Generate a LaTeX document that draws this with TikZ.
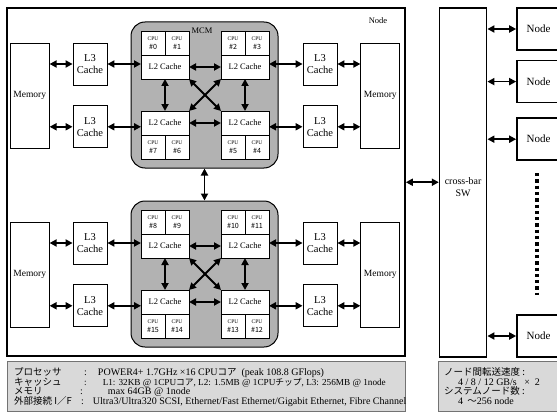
\documentclass[tikz,border=0pt]{standalone}
\usepackage{fontspec}
\setmainfont{Liberation Serif}
\newfontfamily\cjk[Scale=0.95]{Noto Sans CJK JP}
\usetikzlibrary{arrows.meta,positioning}
\newcommand{\cpulabel}[1]{CPU\\{\cjk\fontsize{7.5}{8}\selectfont\##1}}
\tikzset{
    mainframe/.style={rectangle,draw,line width=1.6pt,minimum width=398pt,minimum height=348pt},
    memblock/.style={rectangle,draw,line width=0.8pt,inner sep=0pt,minimum width=39pt,minimum height=105pt,font=\fontsize{9.5}{11}\selectfont},
    l3block/.style={rectangle,draw,line width=0.8pt,inner sep=0pt,align=center,minimum width=34pt,minimum height=42pt,font=\fontsize{10.5}{12}\selectfont},
    mcmblock/.style={rectangle,draw,rounded corners=14pt,line width=1pt,fill=black!30,minimum width=147pt,minimum height=146pt},
    l2block/.style={rectangle,draw,fill=white,line width=0.6pt,outer sep=0pt,inner sep=0pt,minimum width=48pt,minimum height=24pt,font=\fontsize{8.5}{10}\selectfont},
    cpucell/.style={rectangle,draw,fill=white,line width=0.6pt,outer sep=0pt,inner sep=0pt,align=center,minimum width=24pt,minimum height=24pt,font=\fontsize{5.5}{9.5}\selectfont},
    xbarblock/.style={rectangle,draw,line width=1.6pt,minimum width=47pt,minimum height=349pt},
    netnode/.style={rectangle,draw,line width=1.6pt,minimum width=43pt,minimum height=42pt,font=\fontsize{11}{13}\selectfont},
    infobox/.style={rectangle,draw=black!55,line width=0.8pt,fill=black!15,minimum height=50pt},
    infotext/.style={inner sep=0pt,anchor=base west,font=\fontsize{10}{10}\selectfont},
    smalllabel/.style={inner sep=0pt,align=center,font=\fontsize{8.5}{10}\selectfont},
    busline/.style={{Triangle[length=7pt,width=7pt]}-{Triangle[length=7pt,width=7pt]},line width=1.8pt},
    dotline/.style={line width=3.3pt,dash pattern=on 3.3pt off 3pt}
}

\begin{document}
\begin{tikzpicture}[x=1pt,y=-1pt,node distance=23pt]
            \useasboundingbox (0,0) rectangle (557,412);
            \clip (0,0) rectangle (557,412);
            \node[mainframe] (nodebox) at (206,182.25) {};
            \node[smalllabel] (nodelabel) at (378,21) {Node};
            \node[mcmblock] (mcma) at (204.5,95) {};
            \node[smalllabel] (mcmlabel) at (202,30.5) {MCM};
            \node[l2block] (l2a) at (165,67) {L2 Cache};
            \node[l2block,right=32pt of l2a] (l2b) {L2 Cache};
            \node[l2block,below=32pt of l2a] (l2c) {L2 Cache};
            \node[l2block,right=32pt of l2c] (l2d) {L2 Cache};
            \node[cpucell,above right=0pt and 0pt of l2a.north west] (cpu0) {\cpulabel{0}};
            \node[cpucell,right=0pt of cpu0] (cpu1) {\cpulabel{1}};
            \node[cpucell,above right=0pt and 0pt of l2b.north west] (cpu2) {\cpulabel{2}};
            \node[cpucell,right=0pt of cpu2] (cpu3) {\cpulabel{3}};
            \node[cpucell,below right=0pt and 0pt of l2c.south west] (cpu7) {\cpulabel{7}};
            \node[cpucell,right=0pt of cpu7] (cpu6) {\cpulabel{6}};
            \node[cpucell,below right=0pt and 0pt of l2d.south west] (cpu5) {\cpulabel{5}};
            \node[cpucell,right=0pt of cpu5] (cpu4) {\cpulabel{4}};
            \node[l3block] (l3a) at (90,64) {L3\\Cache};
            \node[l3block,below=20pt of l3a] (l3b) {L3\\Cache};
            \node[memblock,left=of l3a.north west,anchor=north east] (mema) {Memory};
            \node[l3block] (l3c) at (320,64) {L3\\Cache};
            \node[l3block,below=20pt of l3c] (l3d) {L3\\Cache};
            \node[memblock,right=of l3c.north east,anchor=north west] (memb) {Memory};
            \node[mcmblock] (mcmb) at (204.5,274) {};
            \node[l2block] (l2e) at (165,246) {L2 Cache};
            \node[l2block,right=32pt of l2e] (l2f) {L2 Cache};
            \node[l2block,below=32pt of l2e] (l2g) {L2 Cache};
            \node[l2block,right=32pt of l2g] (l2h) {L2 Cache};
            \node[cpucell,above right=0pt and 0pt of l2e.north west] (cpu8) {\cpulabel{8}};
            \node[cpucell,right=0pt of cpu8] (cpu9) {\cpulabel{9}};
            \node[cpucell,above right=0pt and 0pt of l2f.north west] (cpu10) {\cpulabel{10}};
            \node[cpucell,right=0pt of cpu10] (cpu11) {\cpulabel{11}};
            \node[cpucell,below right=0pt and 0pt of l2g.south west] (cpu15) {\cpulabel{15}};
            \node[cpucell,right=0pt of cpu15] (cpu14) {\cpulabel{14}};
            \node[cpucell,below right=0pt and 0pt of l2h.south west] (cpu13) {\cpulabel{13}};
            \node[cpucell,right=0pt of cpu13] (cpu12) {\cpulabel{12}};
            \node[l3block] (l3e) at (90,243) {L3\\Cache};
            \node[l3block,below=20pt of l3e] (l3f) {L3\\Cache};
            \node[memblock,left=of l3e.north west,anchor=north east] (memc) {Memory};
            \node[l3block] (l3g) at (320,243) {L3\\Cache};
            \node[l3block,below=20pt of l3g] (l3h) {L3\\Cache};
            \node[memblock,right=of l3g.north east,anchor=north west] (memd) {Memory};
            \node[xbarblock,right=33pt of nodebox] (xbar) {};
            \node[smalllabel,font=\fontsize{10}{12}\selectfont] (xbarlabel) at ([yshift=-5pt]xbar.center) {cross-bar\\SW};
            \node[netnode] (net1) at (538.5,29) {Node};
            \node[netnode,below=9pt of net1] (net2) {Node};
            \node[netnode,below=14pt of net2] (net3) {Node};
            \node[netnode] (net4) at (538.5,336) {Node};
            \coordinate (dotstop) at (537,173);
            \coordinate (dotsend) at (537,295);
            \draw[dotline] (dotstop) -- (dotsend);
            \draw[busline] (mema.east |- l3a.west) -- (l3a.west);
            \draw[busline] (mema.east |- l3b.west) -- (l3b.west);
            \draw[busline] (l3a.east) -- (l3a.east -| l2a.west);
            \draw[busline] (l3b.east) -- (l3b.east -| l2c.west);
            \draw[busline] (l2a) -- (l2b);
            \draw[busline] (l2c) -- (l2d);
            \draw[busline] (l2a) -- (l2c);
            \draw[busline] (l2b) -- (l2d);
            \draw[busline] (l2a.south east) -- (l2d.north west);
            \draw[busline] (l2b.south west) -- (l2c.north east);
            \draw[busline] (l3c.west -| l2b.east) -- (l3c.west);
            \draw[busline] (l3d.west -| l2d.east) -- (l3d.west);
            \draw[busline] (l3c.east) -- (l3c.east -| memb.west);
            \draw[busline] (l3d.east) -- (l3d.east -| memb.west);
            \draw[busline] (mcma) -- (mcmb);
            \draw[busline] (memc.east |- l3e.west) -- (l3e.west);
            \draw[busline] (memc.east |- l3f.west) -- (l3f.west);
            \draw[busline] (l3e.east) -- (l3e.east -| l2e.west);
            \draw[busline] (l3f.east) -- (l3f.east -| l2g.west);
            \draw[busline] (l2e) -- (l2f);
            \draw[busline] (l2g) -- (l2h);
            \draw[busline] (l2e) -- (l2g);
            \draw[busline] (l2f) -- (l2h);
            \draw[busline] (l2e.south east) -- (l2h.north west);
            \draw[busline] (l2f.south west) -- (l2g.north east);
            \draw[busline] (l3g.west -| l2f.east) -- (l3g.west);
            \draw[busline] (l3h.west -| l2h.east) -- (l3h.west);
            \draw[busline] (l3g.east) -- (l3g.east -| memd.west);
            \draw[busline] (l3h.east) -- (l3h.east -| memd.west);
            \draw[busline] (nodebox) -- (xbar);
            \draw[busline] (xbar.east |- net1.west) -- (net1.west);
            \draw[busline] (xbar.east |- net2.west) -- (net2.west);
            \draw[busline] (xbar.east |- net3.west) -- (net3.west);
            \draw[busline] (xbar.east |- net4.west) -- (net4.west);
            \node[infobox,minimum width=398pt] (specbox) at (206,386) {};
            \node[infobox,minimum width=124pt] (netbox) at (500,386) {};
            \node[infotext] (procname) at (14,375) {\cjk プロセッサ};
            \node[infotext] (procval) at (84,375) {:\hspace{11pt}POWER4+ 1.7GHz ×16 CPU{\cjk コア}\hspace{5pt}(peak 108.8 GFlops)};
            \node[infotext] (cachename) at (14,385) {\cjk キャッシュ};
            \node[infotext,font=\fontsize{9.2}{10}\selectfont] (cacheval) at (84,385) {:\hspace{16pt}L1: 32KB @ 1CPU{\cjk コア}, L2: 1.5MB @ 1CPU{\cjk チップ}, L3: 256MB @ 1node};
            \node[infotext] (memname) at (14,394.5) {\cjk メモリ};
            \node[infotext] (memval) at (80,394.5) {:\hspace{25pt}max 64GB @ 1node};
            \node[infotext] (ioname) at (14,404) {\cjk 外部接続 I／F};
            \node[infotext] (ioval) at (81,404) {:\hspace{9pt}Ultra3/Ultra320 SCSI, Ethernet/Fast Ethernet/Gigabit Ethernet, Fibre Channel};
            \node[infotext] (speedname) at (444,375) {\cjk ノード間転送速度 :};
            \node[infotext] (speedval) at (458,385) {4 / 8 / 12 GB/s \ \ × \ 2};
            \node[infotext] (countname) at (444,394.5) {\cjk システムノード数 :};
            \node[infotext] (countval) at (458,404) {4 \,{\cjk 〜}256 node};
        \end{tikzpicture}
\end{document}
